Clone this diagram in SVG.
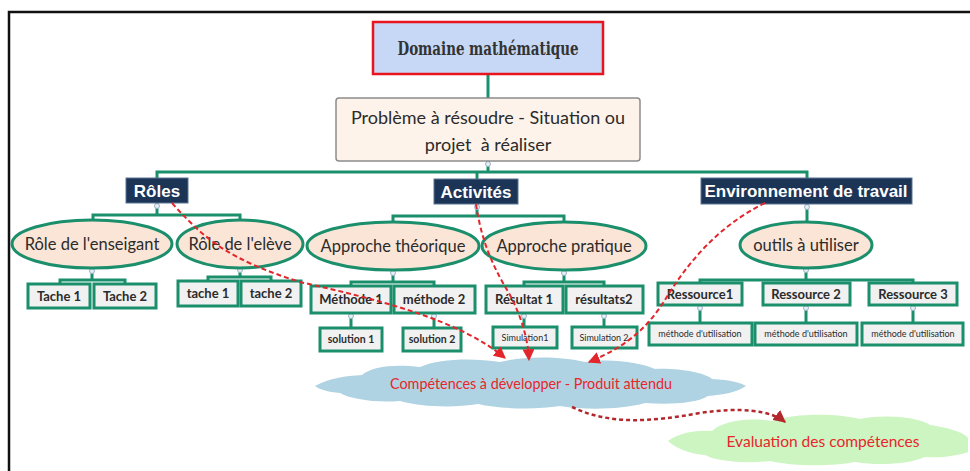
<svg xmlns="http://www.w3.org/2000/svg" width="970" height="471" viewBox="0 0 970 471">
  <style>
    .frame { fill: none; stroke: #111; stroke-width: 2.5; }
    .link { fill: none; stroke: #1b8f6c; stroke-width: 3; }
    .toggle { fill: #e6eef6; stroke: #9fb3c8; stroke-width: 1; }
    .head { fill: #1c3557; stroke: #5b7594; stroke-width: 1; }
    .headtxt { font-family: "Liberation Sans", Arial, sans-serif; font-weight: bold; font-size: 17px; fill: #ffffff; text-anchor: middle; }
    .oval { fill: #fbe5d6; stroke: #1b8f6c; stroke-width: 3; }
    .ovaltxt { font-family: Lato, "Liberation Sans", sans-serif; font-size: 16.5px; fill: #2b2b2b; text-anchor: middle; }
    .box { fill: #f1f1f1; stroke: #1b8f6c; stroke-width: 3; }
    .boxtxt { font-family: Lato, "Liberation Sans", sans-serif; font-weight: bold; font-size: 13px; fill: #2b2b2b; text-anchor: middle; }
    .smalltxt { font-family: Lato, "Liberation Sans", sans-serif; font-weight: bold; font-size: 10.5px; fill: #2b2b2b; text-anchor: middle; }
    .tinytxt { font-family: Lato, "Liberation Sans", sans-serif; font-size: 9px; fill: #2b2b2b; text-anchor: middle; }
    .flow { fill: none; stroke: #e3262b; stroke-width: 2; stroke-dasharray: 5 3; }
    .flow2 { fill: none; stroke: #b3282c; stroke-width: 2.5; stroke-dasharray: 4 3; }
    .cloudtxt { font-family: Lato, "Liberation Sans", sans-serif; font-size: 15px; fill: #e8262b; text-anchor: middle; }
  </style>
  <defs>
    <marker id="arrowRed" viewBox="0 0 10 10" refX="9" refY="5" markerWidth="6" markerHeight="6" orient="auto" markerUnits="strokeWidth">
      <path d="M0,0 L10,5 L0,10 Z" fill="#e3262b"/>
    </marker>
    <marker id="arrowDark" viewBox="0 0 10 10" refX="9" refY="5" markerWidth="5" markerHeight="5" orient="auto" markerUnits="strokeWidth">
      <path d="M0,0 L10,5 L0,10 Z" fill="#b3282c"/>
    </marker>
  </defs>

  <!-- page frame (top and left edges) -->
  <path class="frame" d="M9,471 V12 H970"/>

  <!-- tree connectors -->
  <g id="connectors">
    <path class="link" d="M488,74 V98"/>
    <path class="link" d="M488,161 V172"/>
    <path class="link" d="M157,178 V172 H807 V178"/>
    <path class="link" d="M477,172 V179"/>
    <!-- Rôles -->
    <path class="link" d="M157,203 V215"/>
    <path class="link" d="M93,221 V215 H240 V221"/>
    <path class="link" d="M92,268 V280"/>
    <path class="link" d="M60,284 V280 H125 V284"/>
    <path class="link" d="M240,268 V277"/>
    <path class="link" d="M208,281 V277 H271 V281"/>
    <!-- Activités -->
    <path class="link" d="M477,204 V216"/>
    <path class="link" d="M393,223 V216 H564 V223"/>
    <path class="link" d="M393,270 V282"/>
    <path class="link" d="M351,286 V282 H434 V286"/>
    <path class="link" d="M564,270 V282"/>
    <path class="link" d="M524,286 V282 H604 V286"/>
    <path class="link" d="M351,313 V328"/>
    <path class="link" d="M434,313 V328"/>
    <path class="link" d="M524,313 V327"/>
    <path class="link" d="M604,313 V327"/>
    <!-- Environnement -->
    <path class="link" d="M807,204 V222"/>
    <path class="link" d="M806,267 V280"/>
    <path class="link" d="M700,283 V280 H913 V283"/>
    <path class="link" d="M700,305 V323"/>
    <path class="link" d="M806,305 V323"/>
    <path class="link" d="M913,305 V323"/>
  </g>

  <!-- collapse toggles -->
  <g id="toggles">
    <circle class="toggle" cx="488" cy="164" r="2.5"/>
    <circle class="toggle" cx="157" cy="206" r="2.5"/>
    <circle class="toggle" cx="477" cy="207" r="2.5"/>
    <circle class="toggle" cx="807" cy="207" r="2.5"/>
    <circle class="toggle" cx="92" cy="271" r="2.5"/>
    <circle class="toggle" cx="240" cy="270" r="2.5"/>
    <circle class="toggle" cx="393" cy="273" r="2.5"/>
    <circle class="toggle" cx="564" cy="273" r="2.5"/>
    <circle class="toggle" cx="806" cy="270" r="2.5"/>
    <circle class="toggle" cx="351" cy="316" r="2.5"/>
    <circle class="toggle" cx="434" cy="316" r="2.5"/>
    <circle class="toggle" cx="524" cy="316" r="2.5"/>
    <circle class="toggle" cx="604" cy="316" r="2.5"/>
    <circle class="toggle" cx="700" cy="308" r="2.5"/>
    <circle class="toggle" cx="806" cy="308" r="2.5"/>
    <circle class="toggle" cx="913" cy="308" r="2.5"/>
  </g>

  <!-- root -->
  <g id="domaine">
    <rect x="373" y="22" width="230" height="52" fill="#c6d8f6" stroke="#e8141e" stroke-width="2.5"/>
    <text x="488" y="55" font-family="'DejaVu Serif Condensed', 'Liberation Serif', serif" font-weight="bold" font-size="19" fill="#333333" text-anchor="middle" textLength="181" lengthAdjust="spacingAndGlyphs">Domaine mathématique</text>
  </g>

  <g id="probleme">
    <rect x="336" y="98" width="304" height="63" rx="3" fill="#fdf3ea" stroke="#8c8c8c" stroke-width="1.5"/>
    <text x="488" y="124" font-family="Lato, 'Liberation Sans', sans-serif" font-size="18" fill="#2b2b2b" text-anchor="middle">Problème à résoudre - Situation ou</text>
    <text x="488" y="151" font-family="Lato, 'Liberation Sans', sans-serif" font-size="18" fill="#2b2b2b" text-anchor="middle" xml:space="preserve">projet  à réaliser</text>
  </g>

  <!-- main branches -->
  <g id="roles">
    <rect class="head" x="126" y="178" width="62" height="25"/>
    <text class="headtxt" x="157" y="197">Rôles</text>
  </g>
  <g id="activites">
    <rect class="head" x="434" y="179" width="84" height="25"/>
    <text class="headtxt" x="476" y="198">Activités</text>
  </g>
  <g id="environnement">
    <rect class="head" x="701" y="178" width="211" height="26"/>
    <text class="headtxt" x="806" y="197">Environnement de travail</text>
  </g>

  <!-- Rôles subtree -->
  <g id="role-enseignant">
    <ellipse class="oval" cx="92" cy="244" rx="80" ry="24"/>
    <text class="ovaltxt" x="92" y="250">Rôle de l'enseigant</text>
  </g>
  <g id="role-eleve">
    <ellipse class="oval" cx="240" cy="244" rx="63" ry="24"/>
    <text class="ovaltxt" x="240" y="250">Rôle de l'elève</text>
  </g>
  <g id="tache-1-ens">
    <rect class="box" x="28" y="284" width="62" height="24"/>
    <text class="boxtxt" x="59" y="301">Tache 1</text>
  </g>
  <g id="tache-2-ens">
    <rect class="box" x="94" y="284" width="62" height="24"/>
    <text class="boxtxt" x="125" y="301">Tache 2</text>
  </g>
  <g id="tache-1-ele">
    <rect class="box" x="178" y="281" width="60" height="25"/>
    <text class="boxtxt" x="208" y="298">tache 1</text>
  </g>
  <g id="tache-2-ele">
    <rect class="box" x="241" y="281" width="60" height="25"/>
    <text class="boxtxt" x="271" y="298">tache 2</text>
  </g>

  <!-- Activités subtree -->
  <g id="approche-theorique">
    <ellipse class="oval" cx="393" cy="246" rx="86" ry="24"/>
    <text class="ovaltxt" x="393" y="252">Approche théorique</text>
  </g>
  <g id="approche-pratique">
    <ellipse class="oval" cx="564" cy="246" rx="82" ry="24"/>
    <text class="ovaltxt" x="564" y="252">Approche pratique</text>
  </g>
  <g id="methode-1">
    <rect class="box" x="311" y="286" width="80" height="27"/>
    <text class="boxtxt" x="351" y="304">Méthode 1</text>
  </g>
  <g id="methode-2">
    <rect class="box" x="394" y="286" width="81" height="27"/>
    <text class="boxtxt" x="434" y="304">méthode 2</text>
  </g>
  <g id="resultat-1">
    <rect class="box" x="486" y="286" width="77" height="27"/>
    <text class="boxtxt" x="524" y="304">Résultat 1</text>
  </g>
  <g id="resultats-2">
    <rect class="box" x="566" y="286" width="77" height="27"/>
    <text class="boxtxt" x="604" y="304">résultats2</text>
  </g>
  <g id="solution-1">
    <rect class="box" x="320" y="328" width="62" height="23"/>
    <text class="smalltxt" x="351" y="343">solution 1</text>
  </g>
  <g id="solution-2">
    <rect class="box" x="403" y="328" width="58" height="23"/>
    <text class="smalltxt" x="432" y="343">solution 2</text>
  </g>
  <g id="simulation-1">
    <rect class="box" x="493" y="327" width="64" height="21"/>
    <text class="tinytxt" x="525" y="341">Simulation1</text>
  </g>
  <g id="simulation-2">
    <rect class="box" x="572" y="327" width="65" height="21"/>
    <text class="tinytxt" x="604" y="341">Simulation 2</text>
  </g>

  <!-- Environnement subtree -->
  <g id="outils">
    <ellipse class="oval" cx="806" cy="245" rx="66" ry="23"/>
    <text class="ovaltxt" x="806" y="251">outils à utiliser</text>
  </g>
  <g id="ressource-1">
    <rect class="box" x="658" y="283" width="84" height="22"/>
    <text class="boxtxt" x="700" y="299">Ressource1</text>
  </g>
  <g id="ressource-2">
    <rect class="box" x="763" y="283" width="87" height="22"/>
    <text class="boxtxt" x="806" y="299">Ressource 2</text>
  </g>
  <g id="ressource-3">
    <rect class="box" x="869" y="283" width="88" height="22"/>
    <text class="boxtxt" x="913" y="299">Ressource 3</text>
  </g>
  <g id="utilisation-1">
    <rect class="box" x="649" y="323" width="103" height="22"/>
    <text class="tinytxt" x="700" y="337">méthode d'utilisation</text>
  </g>
  <g id="utilisation-2">
    <rect class="box" x="755" y="323" width="102" height="22"/>
    <text class="tinytxt" x="806" y="337">méthode d'utilisation</text>
  </g>
  <g id="utilisation-3">
    <rect class="box" x="862" y="323" width="101" height="22"/>
    <text class="tinytxt" x="913" y="337">méthode d'utilisation</text>
  </g>

  <!-- outcome clouds -->
  <g id="competences">
    <path fill="#afd3e2" d="M315,386 C330,378 345,376 362,375 C372,366 395,364 420,367 C440,358 475,358 500,362 C525,356 560,356 585,362 C610,358 640,362 655,369 C680,368 705,373 712,379 C730,380 742,383 746,386 C738,392 722,395 708,396 C698,403 670,405 645,403 C620,410 585,410 560,406 C535,410 500,409 478,404 C455,408 420,407 400,401 C375,403 350,399 340,393 C328,392 318,389 315,386 Z"/>
    <text class="cloudtxt" x="531" y="389" textLength="282" lengthAdjust="spacingAndGlyphs">Compétences à développer - Produit attendu</text>
  </g>
  <g id="evaluation">
    <path fill="#cdf5c2" d="M668,441 C680,432 698,430 712,431 C722,421 748,417 772,421 C795,413 835,413 860,419 C885,414 918,417 930,425 C950,428 965,433 968,438 L968,452 C958,456 940,458 925,457 C910,464 880,466 855,462 C830,467 790,466 770,461 C745,464 715,461 705,455 C690,454 675,448 668,441 Z"/>
    <text class="cloudtxt" x="823" y="447" textLength="193" lengthAdjust="spacingAndGlyphs">Evaluation des compétences</text>
  </g>

  <!-- dependency flows toward outcomes -->
  <g id="flows">
    <path class="flow" d="M172,203 C205,240 230,260 300,282 C380,300 460,320 505,358" marker-end="url(#arrowRed)"/>
    <path class="flow" d="M476,204 C482,245 495,270 510,295 C522,318 528,340 529,360" marker-end="url(#arrowRed)"/>
    <path class="flow" d="M765,203 C720,225 690,260 668,295 C650,325 630,345 589,362" marker-end="url(#arrowRed)"/>
    <path class="flow2" d="M572,407 C610,425 650,422 700,413 C740,407 770,410 785,422" marker-end="url(#arrowDark)"/>
  </g>
</svg>
